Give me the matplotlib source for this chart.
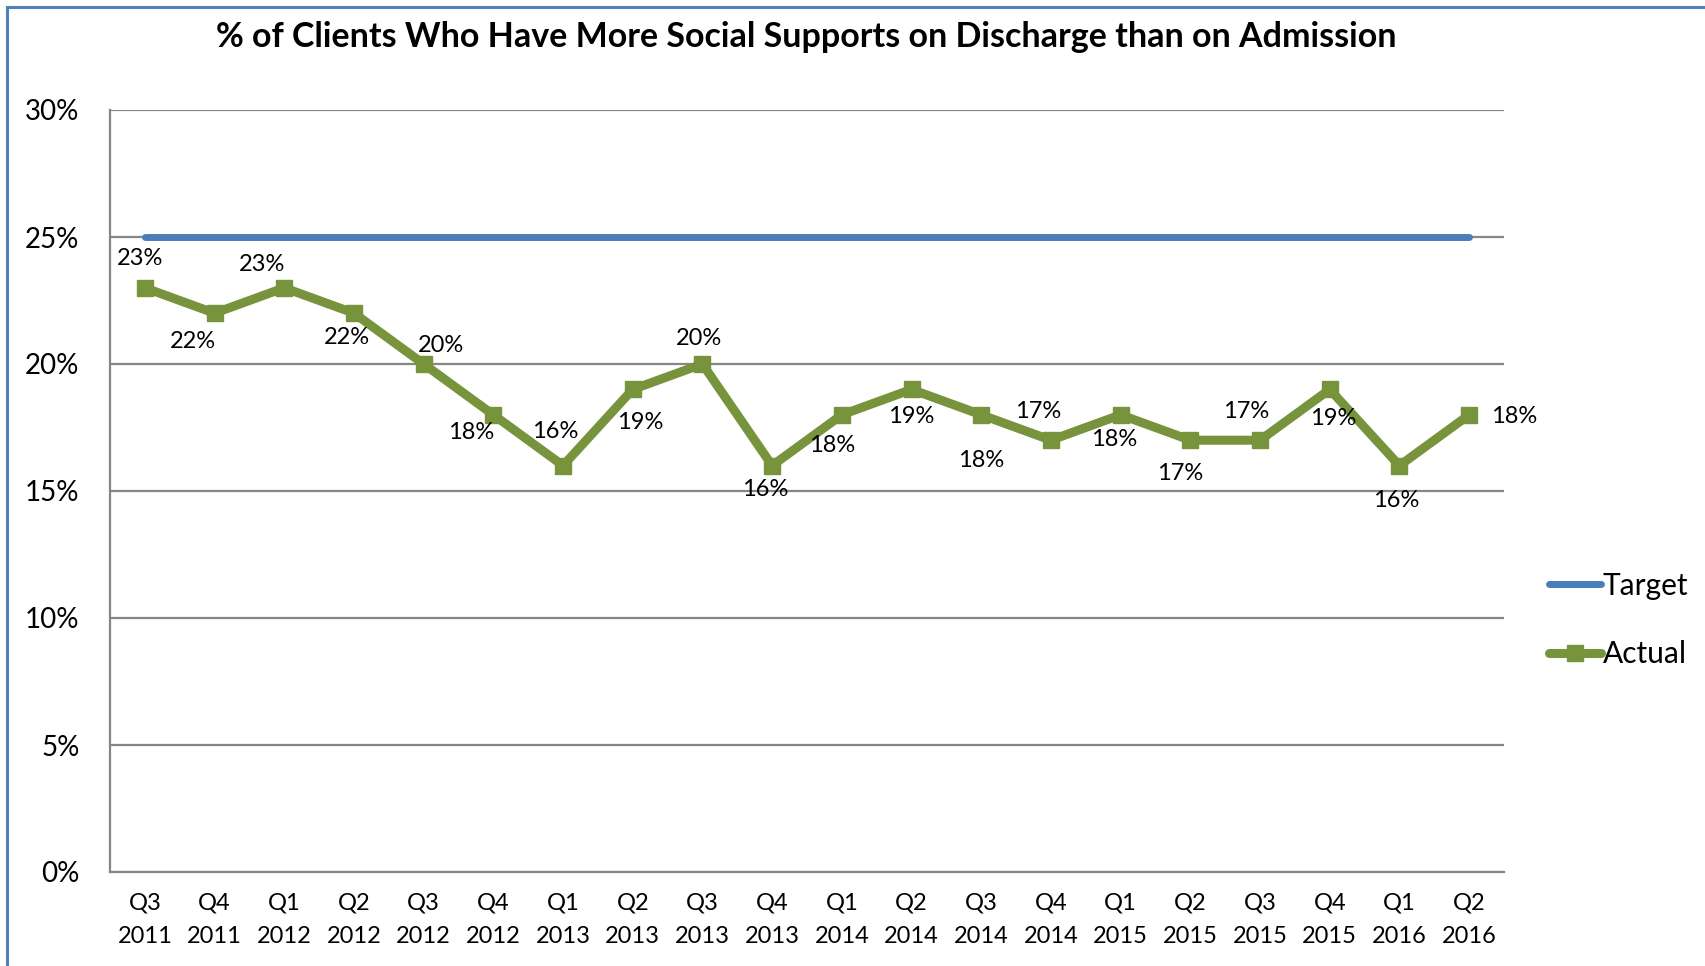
import matplotlib
matplotlib.use("Agg")
import matplotlib.pyplot as plt
from matplotlib.patches import Rectangle
from matplotlib.lines import Line2D
import numpy as np

title = "% of Clients Who Have More Social Supports on Discharge than on Admission"
quarters = ["Q3\n2011", "Q4\n2011", "Q1\n2012", "Q2\n2012", "Q3\n2012", "Q4\n2012",
            "Q1\n2013", "Q2\n2013", "Q3\n2013", "Q4\n2013", "Q1\n2014", "Q2\n2014",
            "Q3\n2014", "Q4\n2014", "Q1\n2015", "Q2\n2015", "Q3\n2015", "Q4\n2015",
            "Q1\n2016", "Q2\n2016"]
actual = [23, 22, 23, 22, 20, 18, 16, 19, 20, 16, 18, 19, 18, 17, 18, 17, 17, 19, 16, 18]
target = [25] * len(quarters)
yticks = [0, 5, 10, 15, 20, 25, 30]

# label offsets (pixels, x right, y down)
label_offsets = [(-4, -27), (-20, 26), (-20, -21), (-6, 22), (16, -17), (-20, 16),
                 (-7, -31), (7, 30), (-3, -23), (-6, 22), (-9, 28), (0, 25),
                 (0, 42), (-12, -26), (-6, 23), (-9, 31), (-13, -26), (3, 27),
                 (-3, 32), (41, 2)]

FONT = ["Lato", "DejaVu Sans"]
plt.rcParams['font.family'] = FONT

W, H = 1705, 966
fig = plt.figure(figsize=(W / 100, H / 100), dpi=100)
fig.patch.set_facecolor("white")

ax = fig.add_axes([110 / W, 1 - 872 / H, (1504 - 110) / W, (872 - 110) / H])
x = np.arange(len(quarters))

blue = "#4A7EBB"
green = "#77933C"
grid = "#868686"

ax.plot(x, target, color=blue, lw=5, solid_capstyle="round", zorder=3)
ax.plot(x, actual, color=green, lw=6.5, marker="s", markersize=11,
        solid_joinstyle="miter", zorder=4)

for xi, v, (dx, dy) in zip(x, actual, label_offsets):
    ax.annotate(f"{v}%", (xi, v), xytext=(dx * 1.087, -dy * 1.087),
                textcoords="offset pixels", ha="center", va="center",
                fontsize=17, color="black", zorder=5)

ax.set_xlim(-0.5, len(quarters) - 0.5)
ax.set_ylim(0, 30)
ax.set_yticks(yticks)
ax.set_yticklabels([f"{t}%" for t in yticks])
ax.set_xticks(x)
ax.set_xticklabels(quarters, linespacing=1.7)
ax.yaxis.grid(True, color=grid, lw=1.6)
ax.set_axisbelow(True)
for s in ["top", "right"]:
    ax.spines[s].set_visible(False)
for s in ["left", "bottom"]:
    ax.spines[s].set_color(grid)
    ax.spines[s].set_linewidth(1.6)
ax.tick_params(axis="y", length=0, pad=22, labelsize=20)
ax.tick_params(axis="x", length=0, pad=15, labelsize=17)

fig.text(0.5 * (193 + 1289) * 1.0874 / W, 1 - 34 * 1.0874 / H, title,
         ha="center", va="center", fontsize=24.5, fontweight="bold")

handles = [Line2D([], [], color=blue, lw=5, solid_capstyle="round"),
           Line2D([], [], color=green, lw=6.5, marker="s", markersize=11,
                  solid_capstyle="round")]
fig.legend(handles, ["Target", "Actual"], loc="center left",
           bbox_to_anchor=(1537 / W, 1 - 620 / H), frameon=False,
           fontsize=21.5, handlelength=1.75, handletextpad=0.05,
           labelspacing=1.35, borderaxespad=0)

fig.add_artist(Rectangle((7 / W, -0.1), 1.2, 1.1 - 7 / H + 0.0, transform=fig.transFigure,
                         fill=False, edgecolor="#4F81BD", lw=2.2))

fig.savefig("out.png", dpi=100)
